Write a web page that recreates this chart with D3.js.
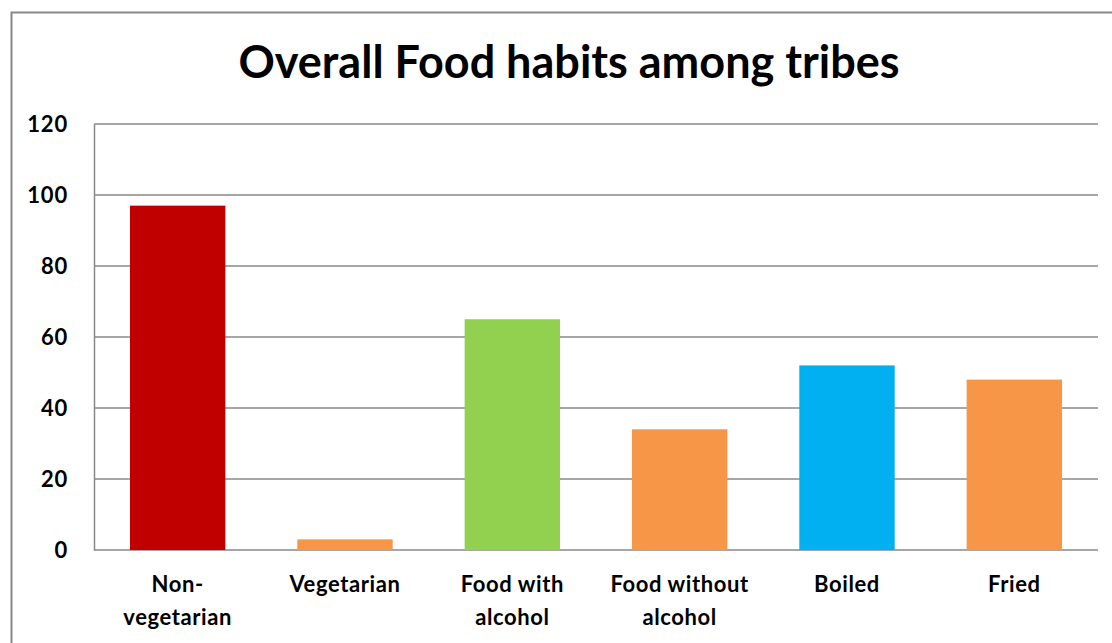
<!DOCTYPE html>
<html>
<head>
<meta charset="utf-8">
<script src="https://cdn.jsdelivr.net/npm/d3@7"></script>
<style>
  body { margin: 0; background: #fff; }
  text { font-family: Lato, "Open Sans", sans-serif; font-weight: bold; fill: #000; }
</style>
</head>
<body>
<div id="chart-container"></div>
<script>
let categories = [["Non-", "vegetarian"], ["Vegetarian"], ["Food with", "alcohol"], ["Food without", "alcohol"], ["Boiled"], ["Fried"]];
let values = [97, 3, 65, 34, 52, 48];
let barColors = ["#C00000", "#F79646", "#92D050", "#F79646", "#00B0F0", "#F79646"];
let yTicks = [0, 20, 40, 60, 80, 100, 120];

let margin = { top: 124, right: 14, bottom: 93, left: 94 };
let width = 1112 - margin.left - margin.right;
let height = 643 - margin.top - margin.bottom;

let root = d3
  .select("#chart-container")
  .append("svg")
  .attr("width", 1112)
  .attr("height", 643);

// outer chart border
root
  .append("rect")
  .attr("x", 11.5)
  .attr("y", 12.5)
  .attr("width", 1120)
  .attr("height", 660)
  .attr("fill", "none")
  .attr("stroke", "#888")
  .attr("stroke-width", 2);

// title
root
  .append("text")
  .attr("x", 569)
  .attr("y", 78)
  .attr("text-anchor", "middle")
  .style("font-size", "45px")
  .text("Overall Food habits among tribes");

let svg = root
  .append("g")
  .attr("transform", "translate(" + margin.left + "," + margin.top + ")");

let xScale = d3
  .scaleBand()
  .domain(d3.range(categories.length))
  .range([0, width])
  .paddingInner(0.43)
  .paddingOuter(0.215);

let yScale = d3.scaleLinear().domain([0, 120]).range([height, 0]);

// gridlines
svg
  .append("g")
  .selectAll("line")
  .data(yTicks)
  .enter()
  .append("line")
  .attr("x1", 0)
  .attr("x2", width)
  .attr("y1", (d) => yScale(d))
  .attr("y2", (d) => yScale(d))
  .attr("stroke", "#888")
  .attr("stroke-width", 1.5);

// Y axis
let yAxis = svg
  .append("g")
  .call(d3.axisLeft(yScale).tickValues(yTicks).tickSize(0).tickPadding(26));
yAxis.select(".domain").attr("stroke", "#888").attr("stroke-width", 1.5);
yAxis
  .selectAll("text")
  .style("font-size", "22px")
  .style("letter-spacing", "0.8px")
  .attr("dy", "0.35em");

// category labels
let labels = svg
  .append("g")
  .selectAll("text")
  .data(categories)
  .enter()
  .append("text")
  .attr("text-anchor", "middle")
  .attr("x", (d, i) => xScale(i) + xScale.bandwidth() / 2)
  .attr("y", height + 42)
  .style("font-size", "22px")
  .style("letter-spacing", "0.6px");

labels
  .selectAll("tspan")
  .data((d) => d)
  .enter()
  .append("tspan")
  .attr("x", function () {
    return this.parentNode.getAttribute("x");
  })
  .attr("dy", (d, i) => (i === 0 ? 0 : 33))
  .text((d) => d);

// bars
svg
  .append("g")
  .selectAll("rect")
  .data(values)
  .enter()
  .append("rect")
  .attr("x", (d, i) => xScale(i))
  .attr("y", (d) => yScale(d))
  .attr("width", xScale.bandwidth())
  .attr("height", (d) => height - yScale(d))
  .attr("fill", (d, i) => barColors[i]);
</script>
</body>
</html>
